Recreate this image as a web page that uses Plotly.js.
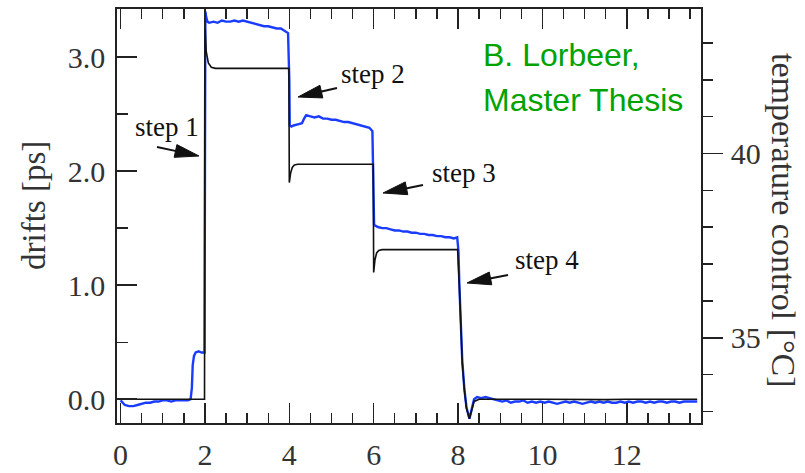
<!DOCTYPE html>
<html>
<head>
<meta charset="utf-8">
<script src="https://cdn.plot.ly/plotly-3.0.1.min.js"></script>
<style>
  html, body { margin: 0; padding: 0; background: #fff; }
  #chart { width: 805px; height: 473px; }
</style>
</head>
<body>
<div id="chart"></div>
<script>
// ---- data ----
// drift (blue), in ps, versus time (x)
const driftX = [0.00,0.05,0.10,0.20,0.30,0.40,0.50,0.60,0.70,0.80,0.90,1.00,1.10,1.20,1.30,1.40,1.50,1.60,1.66,1.69,1.71,1.74,1.78,1.85,1.92,1.99,
  2.00,2.01,2.03,2.06,2.10,2.20,2.30,2.40,2.50,2.60,2.70,2.80,2.90,3.00,3.10,3.20,3.30,3.40,3.50,3.60,3.70,3.80,3.90,3.97,
  4.00,4.01,4.05,4.10,4.20,4.30,4.35,4.40,4.50,4.60,4.70,4.80,4.90,5.00,5.10,5.20,5.30,5.40,5.50,5.60,5.70,5.80,5.90,5.97,
  6.00,6.01,6.05,6.10,6.20,6.30,6.40,6.50,6.60,6.70,6.80,6.90,7.00,7.10,7.20,7.30,7.40,7.50,7.60,7.70,7.80,7.90,7.98,
  8.01,8.03,8.06,8.10,8.15,8.20,8.27,8.32,8.38,8.45,8.55,8.65,8.75,8.85,8.95,9.05,9.15,9.25,9.35,9.45,9.55,9.65,9.75,9.85,9.95,
  10.05,10.15,10.25,10.35,10.45,10.55,10.65,10.75,10.85,10.95,11.05,11.15,11.25,11.35,11.45,11.55,11.65,11.75,11.85,11.95,
  12.05,12.15,12.25,12.35,12.45,12.55,12.65,12.75,12.85,12.95,13.05,13.15,13.25,13.35,13.45,13.55,13.67];
const driftY = [-0.01,-0.03,-0.05,-0.06,-0.06,-0.05,-0.04,-0.03,-0.03,-0.02,-0.02,-0.01,-0.01,-0.02,-0.01,-0.01,-0.01,-0.01,0.00,0.10,0.30,0.38,0.41,0.42,0.41,0.41,
  2.00,3.40,3.35,3.31,3.30,3.31,3.30,3.32,3.31,3.31,3.32,3.31,3.32,3.31,3.30,3.29,3.28,3.27,3.27,3.26,3.25,3.25,3.23,3.21,
  2.80,2.40,2.39,2.40,2.41,2.42,2.46,2.49,2.48,2.47,2.48,2.46,2.46,2.45,2.45,2.44,2.43,2.43,2.42,2.41,2.40,2.39,2.38,2.35,
  1.90,1.53,1.52,1.51,1.50,1.50,1.49,1.48,1.48,1.47,1.47,1.46,1.46,1.45,1.45,1.44,1.44,1.43,1.43,1.42,1.42,1.41,1.42,
  1.30,1.02,0.72,0.34,0.09,-0.07,-0.17,-0.10,0.00,0.02,0.01,0.02,0.01,0.00,-0.01,-0.02,-0.01,-0.03,-0.02,-0.02,-0.01,-0.03,-0.02,-0.03,-0.02,
  -0.03,-0.02,-0.03,-0.04,-0.03,-0.02,-0.03,-0.02,-0.03,-0.04,-0.03,-0.02,-0.03,-0.02,-0.03,-0.02,-0.03,-0.03,-0.02,-0.03,
  -0.02,-0.03,-0.02,-0.02,-0.03,-0.02,-0.03,-0.02,-0.02,-0.03,-0.02,-0.02,-0.03,-0.02,-0.02,-0.02,-0.02];

// temperature control (black), in °C, versus time (x)
const tempX = [0.00,0.50,1.00,1.50,1.99,2.00,2.03,2.08,2.15,2.25,3.00,3.50,3.99,
  4.00,4.03,4.07,4.12,4.20,5.00,5.99,
  6.00,6.03,6.07,6.12,6.20,7.00,7.99,
  8.03,8.06,8.10,8.15,8.20,8.27,8.32,8.38,8.50,9.00,9.50,10.00,10.50,11.00,11.50,12.00,12.50,13.00,13.67];
const tempY = [33.33,33.33,33.33,33.33,33.33,43.55,42.77,42.46,42.34,42.31,42.31,42.31,42.31,
  39.21,39.46,39.62,39.69,39.71,39.71,39.71,
  36.77,37.11,37.30,37.37,37.39,37.39,37.39,
  36.43,35.50,34.32,33.58,33.08,32.80,33.02,33.27,33.33,33.34,33.33,33.33,33.32,33.33,33.32,33.33,33.32,33.33,33.33];

const stepLabels = ["step 1", "step 2", "step 3", "step 4"];
const creditLines = ["B. Lorbeer,", "Master Thesis"];
const leftTitle = "drifts [ps]";
const rightTitle = "temperature control [°C]";

// ---- layout geometry ----
const W = 805, H = 473;
const M = {l: 117, r: 104, t: 9, b: 50};
const PW = W - M.l - M.r, PH = H - M.t - M.b;
function px(x) { return (x - M.l) / PW; }
function py(y) { return (M.t + PH - y) / PH; }

const serif = "Liberation Serif, Times New Roman, serif";
const axisCol = "#222";

const traces = [
  {x: tempX, y: tempY, yaxis: "y2", type: "scatter", mode: "lines",
   line: {color: "#111", width: 1.6}, hoverinfo: "skip"},
  {x: driftX, y: driftY, yaxis: "y", type: "scatter", mode: "lines",
   line: {color: "rgb(25,60,255)", width: 2.4}, hoverinfo: "skip"}
];

// label positions (pixels) and arrows (tail -> tip, pixels)
const labelPos = [[133, 127], [339, 74], [430, 173], [513, 260]];
const arrows = [[[157,147],[199,156]], [[337,88],[298,97]], [[423,185],[383,193]], [[508,275],[467,283]]];

const annotations = [];
stepLabels.forEach((t, i) => {
  annotations.push({text: t, xref: "paper", yref: "paper", x: px(labelPos[i][0]), y: py(labelPos[i][1]),
    xanchor: "left", yanchor: "middle", showarrow: false,
    font: {family: serif, size: 27, color: "#111"}});
});
annotations.push({text: creditLines[0], xref: "paper", yref: "paper", x: px(481), y: py(55),
  xanchor: "left", yanchor: "middle", showarrow: false,
  font: {family: "Liberation Sans, Arial, sans-serif", size: 32, color: "#00a300"}});
annotations.push({text: creditLines[1], xref: "paper", yref: "paper", x: px(481), y: py(100),
  xanchor: "left", yanchor: "middle", showarrow: false,
  font: {family: "Liberation Sans, Arial, sans-serif", size: 32, color: "#00a300"}});
annotations.push({text: leftTitle, xref: "paper", yref: "paper", x: px(34), y: py(205),
  xanchor: "center", yanchor: "middle", showarrow: false, textangle: -90,
  font: {family: serif, size: 33, color: "#333"}});
annotations.push({text: rightTitle, xref: "paper", yref: "paper", x: px(784), y: py(220),
  xanchor: "center", yanchor: "middle", showarrow: false, textangle: 90,
  font: {family: serif, size: 34, color: "#333"}});

const shapes = [];
arrows.forEach(a => {
  const [t, p] = a;
  const dx = p[0] - t[0], dy = p[1] - t[1];
  const L = Math.hypot(dx, dy), ux = dx / L, uy = dy / L;
  const hl = 24, hw = 6.5;
  const bx = p[0] - ux * hl, by = p[1] - uy * hl;
  shapes.push({type: "line", xref: "paper", yref: "paper",
    x0: px(t[0]), y0: py(t[1]), x1: px(bx + ux * 2), y1: py(by + uy * 2),
    line: {color: "#111", width: 2}});
  const p1 = [bx - uy * hw, by + ux * hw], p2 = [bx + uy * hw, by - ux * hw];
  shapes.push({type: "path", xref: "paper", yref: "paper",
    path: `M${px(p[0])},${py(p[1])} L${px(p1[0])},${py(p1[1])} L${px(p2[0])},${py(p2[1])} Z`,
    fillcolor: "#111", line: {color: "#111", width: 1}});
});

const tickFont = {family: serif, size: 30, color: "#333"};

const layout = {
  width: W, height: H,
  margin: {l: M.l, r: M.r, t: M.t, b: M.b, pad: 0},
  paper_bgcolor: "#fff", plot_bgcolor: "#fff",
  showlegend: false,
  xaxis: {range: [-0.085, 13.76], tick0: 0, dtick: 2, ticks: "inside", ticklen: 20, tickwidth: 1.6,
    tickcolor: axisCol, showline: true, linecolor: axisCol, linewidth: 1.8, mirror: "ticks",
    showgrid: false, zeroline: false, tickfont: tickFont, ticklabelstandoff: 4,
    minor: {ticks: "inside", ticklen: 10, dtick: 0.5, tick0: 0, tickwidth: 1.4, tickcolor: axisCol, showgrid: false}},
  yaxis: {range: [-0.208, 3.421], tick0: 0, dtick: 1, tickformat: ".1f", ticks: "inside", ticklen: 20, tickwidth: 1.6,
    tickcolor: axisCol, showline: true, linecolor: axisCol, linewidth: 1.8, mirror: false,
    showgrid: false, zeroline: false, tickfont: tickFont, ticklabelstandoff: 4,
    minor: {ticks: "inside", ticklen: 11, dtick: 0.5, tick0: 0, tickwidth: 1.4, tickcolor: axisCol, showgrid: false}},
  yaxis2: {range: [32.685, 43.922], overlaying: "y", side: "right", tick0: 35, dtick: 5,
    ticks: "outside", ticklen: 20, tickwidth: 1.6, tickcolor: axisCol, showline: true, linecolor: axisCol,
    linewidth: 1.8, showgrid: false, zeroline: false, tickfont: tickFont, ticklabelstandoff: 2,
    minor: {ticks: "outside", ticklen: 10, dtick: 1, tick0: 35, tickwidth: 1.4, tickcolor: axisCol, showgrid: false}},
  annotations: annotations,
  shapes: shapes
};

Plotly.newPlot("chart", traces, layout, {staticPlot: true, displayModeBar: false});
</script>
</body>
</html>
